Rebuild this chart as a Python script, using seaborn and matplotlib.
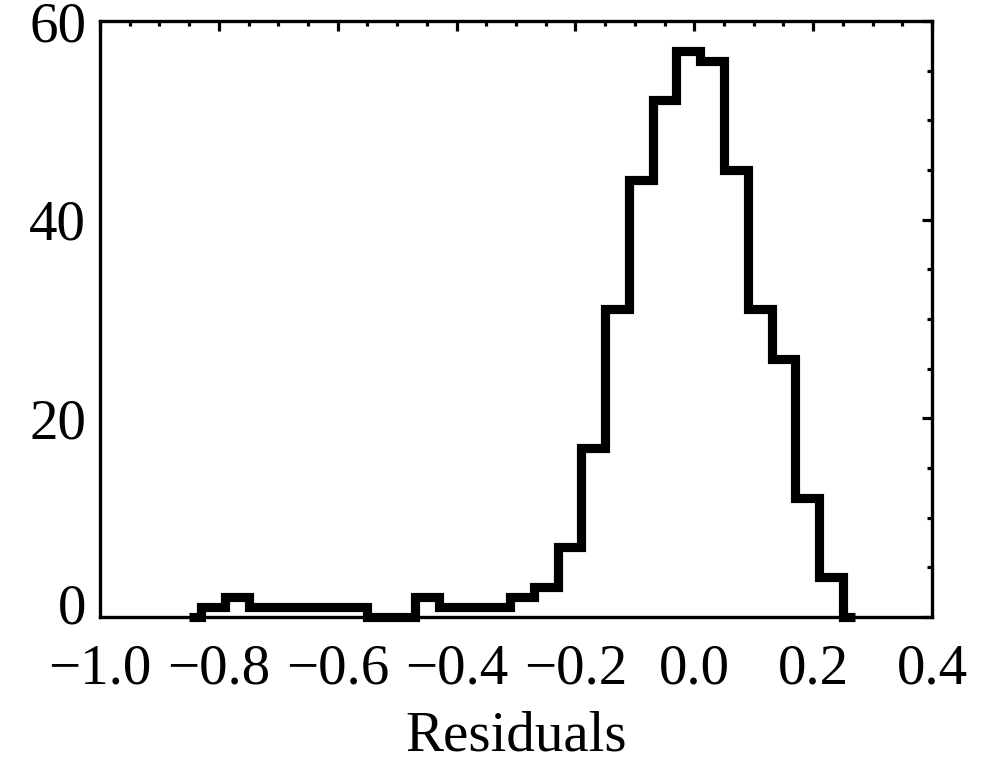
import seaborn as sns
import matplotlib.pyplot as plt
import matplotlib.transforms as mtransforms
from matplotlib.ticker import MultipleLocator

# histogram of residuals, bin width 0.04
bin_centers = [-0.85, -0.81, -0.77, -0.73, -0.69, -0.65, -0.61, -0.57, -0.53, -0.49,
               -0.45, -0.41, -0.37, -0.33, -0.29, -0.25, -0.21, -0.17, -0.13, -0.09,
               -0.05, -0.01, 0.03, 0.07, 0.11, 0.15, 0.19, 0.23, 0.27]
counts = [0, 1, 2, 1, 1, 1, 1, 1, 0, 0,
          2, 1, 1, 1, 2, 3, 7, 17, 31, 44,
          52, 57, 56, 45, 31, 26, 12, 4, 0]
x_ticks = [-1.0, -0.8, -0.6, -0.4, -0.2, 0.0, 0.2, 0.4]
x_labels = ["\u22121.0", "\u22120.8", "\u22120.6", "\u22120.4", "\u22120.2", "0.0", "0.2", "0.4"]
y_ticks = [0, 20, 40, 60]
y_labels = ["0", "20", "40", "60"]

sns.set_style("white")
plt.rcParams['font.family'] = ['Liberation Serif', 'DejaVu Serif']

fig = plt.figure(figsize=(9.95, 7.62), dpi=100)
ax = fig.add_axes([0.1005, 0.1903, 0.8362, 0.7821])

sns.lineplot(x=bin_centers, y=counts, drawstyle='steps-mid', color='black',
             linewidth=6.6, ax=ax, clip_on=False, solid_joinstyle='miter',
             solid_capstyle='butt')

ax.set_xlim(-1.0, 0.4)
ax.set_ylim(0, 60)
ax.set_xticks(x_ticks)
ax.set_xticklabels(x_labels)
ax.set_yticks(y_ticks)
ax.set_yticklabels(y_labels)
ax.xaxis.set_minor_locator(MultipleLocator(0.05))
ax.yaxis.set_minor_locator(MultipleLocator(5))

ax.tick_params(which='both', direction='in', top=True, right=True,
               color='black', width=2.3, labelsize=41, labelcolor='black')
ax.tick_params(which='major', length=7.5)
ax.tick_params(which='minor', length=3.8)
ax.tick_params(axis='x', which='major', pad=19)
ax.tick_params(axis='y', which='major', pad=10)
for s in ax.spines.values():
    s.set_linewidth(2.4)
    s.set_color('black')

ax.set_xlabel("Residuals", fontsize=41, labelpad=11, color='black')
ax.set_ylabel("")

# the "0" on the y axis sits a little above the axis line
lab0 = ax.yaxis.get_major_ticks()[0].label1
lab0.set_transform(lab0.get_transform() + mtransforms.ScaledTranslation(0, 10 / 72, fig.dpi_scale_trans))

fig.savefig("out.png", dpi=100)
